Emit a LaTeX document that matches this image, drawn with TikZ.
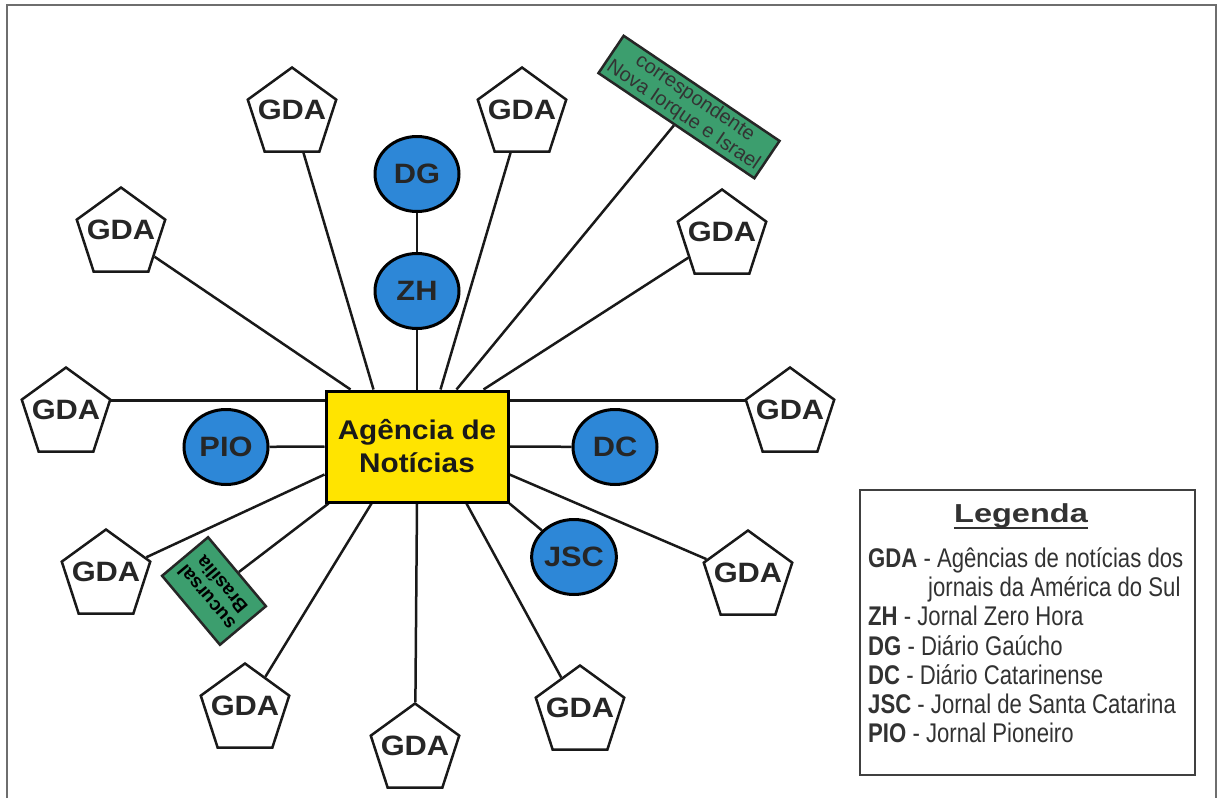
\documentclass[tikz,border=0pt]{standalone}
\usepackage{fontspec}
\setmainfont{Liberation Sans}
\newfontfamily\widefont{Liberation Sans}[FakeStretch=1.1]
\newfontfamily\titlefont{Liberation Sans}[FakeStretch=1.25]
\newfontfamily\narrowfont{Liberation Sans}[FakeStretch=0.82]
\usetikzlibrary{shapes.geometric}
\pgfdeclarelayer{background}
\pgfsetlayers{background,main}
\definecolor{myyellow}{RGB}{255,228,0}
\definecolor{myblue}{RGB}{45,135,215}
\definecolor{mygreen}{RGB}{60,158,110}
\definecolor{framegray}{RGB}{110,110,110}
\definecolor{legtext}{RGB}{50,50,50}
\begin{document}
\begin{tikzpicture}[x=1pt,y=1pt,
  link/.style={line width=2.5pt, black!90},
  gda/.style={regular polygon, regular polygon sides=5, draw=black!90, line width=2.5pt,
    fill=white, minimum size=93pt, inner sep=0pt,
    label={[font=\widefont\bfseries\fontsize{28}{30}\selectfont, yshift=4pt, text=black!85]center:GDA}},
  jornal/.style={ellipse, draw=black, line width=3pt, fill=myblue, minimum width=84pt,
    minimum height=75pt, inner sep=0pt, font=\widefont\bfseries\fontsize{28}{30}\selectfont, text=black!85},
  greenbox/.style={draw=black!85, line width=2.5pt, fill=mygreen, inner sep=0pt, align=center},
  legline/.style={anchor=base west, inner sep=0pt, text=legtext, font=\narrowfont\fontsize{27}{30}\selectfont}
]
\path[use as bounding box] (0,0) rectangle (1221,-798);
\draw[framegray, line width=1.5pt] (7,-798) -- (7,-5) -- (1216,-5) -- (1216,-798);

% centre
\node[draw=black, line width=3pt, fill=myyellow, minimum width=182pt, minimum height=111pt,
  inner sep=0pt, align=center, font=\widefont\bfseries\fontsize{27}{33}\selectfont, text=black!90]
  (c) at (417,-446.5) {Agência de\\Notícias};

% pentagons
\node[gda] (g1) at (292,-114) {};
\node[gda] (g2) at (522,-114) {};
\node[gda] (g3) at (121,-234) {};
\node[gda] (g4) at (722,-236) {};
\node[gda] (g5) at (66,-414) {};
\node[gda] (g6) at (790,-414) {};
\node[gda] (g7) at (106,-576) {};
\node[gda] (g8) at (748,-577) {};
\node[gda] (g9) at (245,-710) {};
\node[gda] (g10) at (415,-750) {};
\node[gda] (g11) at (580,-712) {};

% newspapers
\node[jornal] (dg) at (417,-174) {DG};
\node[jornal] (zh) at (417,-291) {ZH};
\node[jornal] (pio) at (226,-447) {PIO};
\node[jornal] (dc) at (615,-447) {DC};
\node[jornal] (jsc) at (574,-557) {JSC};

% green boxes
\node[greenbox, rotate=-34, minimum width=188pt, minimum height=45pt,
  font=\fontsize{20}{21}\selectfont, text=black!80] (corr) at (689,-107)
  {correspondente\\Nova Iorque e Israel};
\node[greenbox, rotate=130, minimum width=90pt, minimum height=60pt,
  font=\bfseries\fontsize{19}{20}\selectfont, text=black] (suc) at (214,-591)
  {sucursal\\Brasília};

\begin{pgfonlayer}{background}
\draw[link] (dg) -- (zh);
\draw[link] (zh) -- (c.north);
\draw[link] ([xshift=26pt]c.north west) -- (g3);
\draw[link] ([xshift=49pt]c.north west) -- (g1);
\draw[link] ([xshift=116pt]c.north west) -- (g2);
\draw[link] ([xshift=132pt]c.north west) -- (corr);
\draw[link] ([xshift=159pt]c.north west) -- (g4);
\draw[link] ([yshift=-11pt]c.north west) -- ([yshift=-11pt]c.north west -| g5.center);
\draw[link] (c.west) -- (pio);
\draw[link] ([yshift=29pt]c.south west) -- (g7);
\draw[link] ([yshift=-11pt]c.north east) -- ([yshift=-11pt]c.north east -| g6.center);
\draw[link] (c.east) -- (dc);
\draw[link] ([yshift=29pt]c.south east) -- (g8);
\draw[link] ([xshift=4pt]c.south west) -- (suc);
\draw[link] ([xshift=47pt]c.south west) -- (g9);
\draw[link] (c.south) -- (g10);
\draw[link] ([xshift=142pt]c.south west) -- (g11);
\draw[link] (c.south east) -- (jsc);
\end{pgfonlayer}

% legend
\node[draw=black!75, line width=2.5pt, minimum width=335pt, minimum height=285pt, inner sep=0pt]
  (leg) at (1027.5,-632.5) {};
\node[anchor=base, inner sep=0pt, text=legtext, font=\titlefont\bfseries\fontsize{26}{30}\selectfont]
  (legt) at (1021,-522) {Legenda};
\draw[legtext, line width=2pt] ([yshift=-6pt]legt.base west) -- ([yshift=-6pt]legt.base east);
\node[legline] (l1) at (868,-567) {{\bfseries GDA} - Agências de notícias dos};
\node[legline] (l2) at (928,-596) {jornais da América do Sul};
\node[legline] (l3) at (868,-625) {{\bfseries ZH} - Jornal Zero Hora};
\node[legline] (l4) at (868,-655) {{\bfseries DG} - Diário Gaúcho};
\node[legline] (l5) at (868,-684) {{\bfseries DC} - Diário Catarinense};
\node[legline] (l6) at (868,-713) {{\bfseries JSC} - Jornal de Santa Catarina};
\node[legline] (l7) at (868,-742) {{\bfseries PIO} - Jornal Pioneiro};
\end{tikzpicture}
\end{document}
